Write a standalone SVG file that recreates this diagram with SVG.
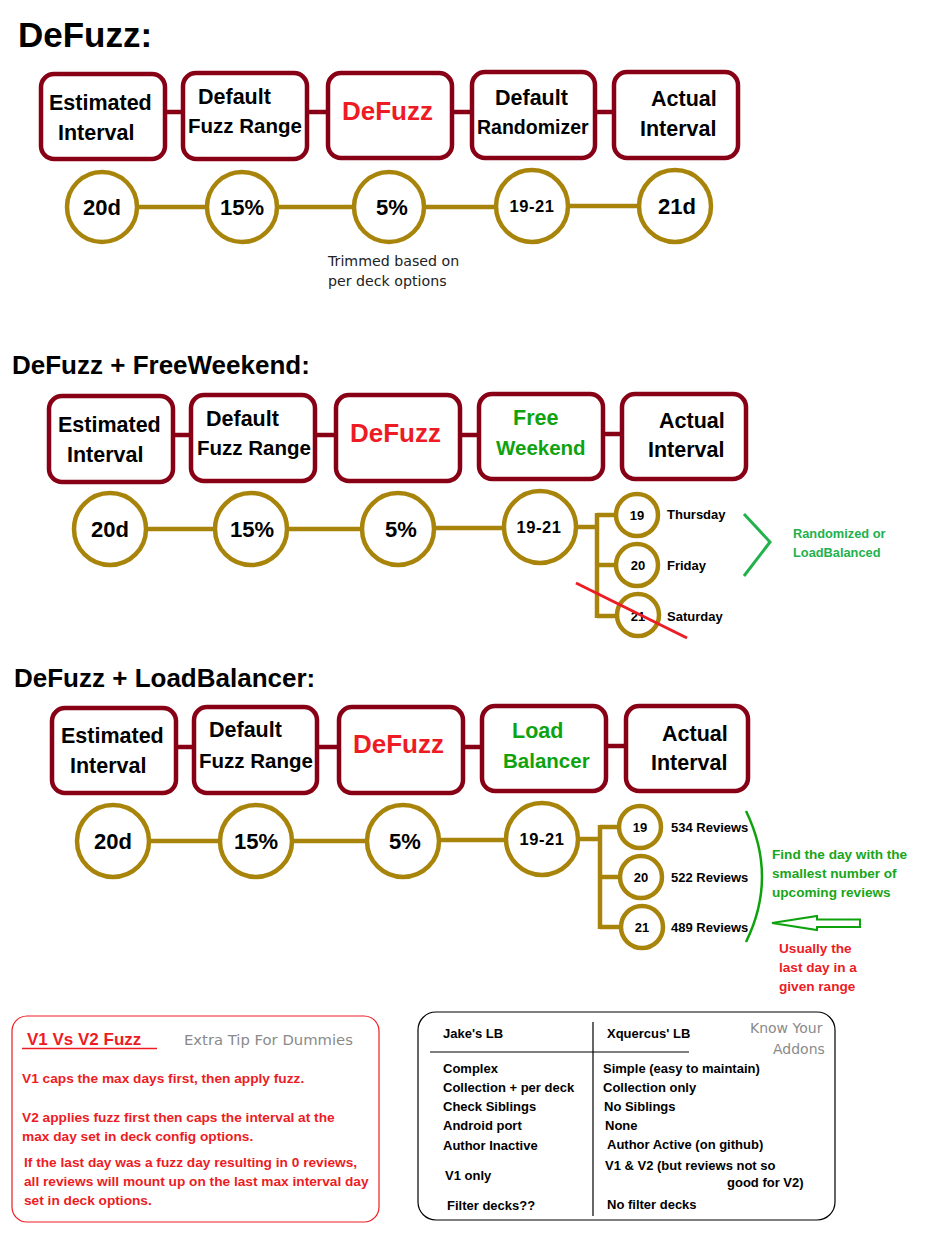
<svg xmlns="http://www.w3.org/2000/svg" width="929" height="1243" viewBox="0 0 929 1243">
<style>
.box{fill:#fff;stroke:#880015;stroke-width:4.5}
.circ{fill:#fff;stroke:#A8840A;stroke-width:4.5}
.lnk{stroke:#880015;stroke-width:4.5;fill:none}
.gl{stroke:#A8840A;stroke-width:4.5;fill:none}
text{font-family:"Liberation Sans",Arial,sans-serif;font-weight:bold;fill:#000}
.title{font-size:26px}
.bt{font-size:21.5px}
.bn{font-size:20.5px}
.red{fill:#ED1C24}
.grn{fill:#0EA30E}
.df{font-size:26px;fill:#ED1C24}
.ct{font-size:22px;text-anchor:middle}
.cs{font-size:16.5px;text-anchor:middle;letter-spacing:0.6px}
.st{font-size:13px;text-anchor:middle}
.lab{font-size:13px}
.hand{font-family:"DejaVu Sans",sans-serif;font-weight:normal}
.note{font-size:13.7px}
.tbl{font-size:13px}
.fnd{font-size:13.6px;fill:#19A519}
</style>

<text x="18" y="47" style="font-size:35px">DeFuzz:</text>
<text x="12" y="374" class="title">DeFuzz + FreeWeekend:</text>
<text x="14" y="687" class="title">DeFuzz + LoadBalancer:</text>

<g id="connectors">
  <line class="lnk" x1="165" y1="112" x2="183" y2="112"/>
  <line class="lnk" x1="307" y1="112" x2="328" y2="112"/>
  <line class="lnk" x1="452" y1="112" x2="472" y2="112"/>
  <line class="lnk" x1="595" y1="112" x2="614" y2="112"/>
  <line class="gl" x1="137" y1="207" x2="207" y2="207"/>
  <line class="gl" x1="277" y1="207" x2="354" y2="207"/>
  <line class="gl" x1="424" y1="207" x2="496" y2="207"/>
  <line class="gl" x1="568" y1="206" x2="639" y2="206"/>
  <line class="lnk" x1="173" y1="435" x2="191" y2="435"/>
  <line class="lnk" x1="315" y1="435" x2="336" y2="435"/>
  <line class="lnk" x1="460" y1="435" x2="479" y2="435"/>
  <line class="lnk" x1="603" y1="434" x2="622" y2="434"/>
  <line class="gl" x1="146" y1="529" x2="215" y2="529"/>
  <line class="gl" x1="287" y1="529" x2="362" y2="529"/>
  <line class="gl" x1="434" y1="528" x2="504" y2="528"/>
  <line class="gl" x1="576" y1="527" x2="597" y2="527"/>
  <line class="gl" x1="597" y1="513" x2="597" y2="618"/>
  <line class="gl" x1="597" y1="515" x2="616" y2="515"/>
  <line class="gl" x1="597" y1="565" x2="616" y2="565"/>
  <line class="gl" x1="597" y1="616" x2="616" y2="616"/>
  <line class="lnk" x1="176" y1="747" x2="194" y2="747"/>
  <line class="lnk" x1="317" y1="747" x2="339" y2="747"/>
  <line class="lnk" x1="463" y1="747" x2="482" y2="747"/>
  <line class="lnk" x1="606" y1="746" x2="626" y2="746"/>
  <line class="gl" x1="149" y1="841" x2="220" y2="841"/>
  <line class="gl" x1="292" y1="841" x2="367" y2="841"/>
  <line class="gl" x1="439" y1="840" x2="506" y2="840"/>
  <line class="gl" x1="578" y1="839" x2="600" y2="839"/>
  <line class="gl" x1="600" y1="825" x2="600" y2="929"/>
  <line class="gl" x1="600" y1="827" x2="619" y2="827"/>
  <line class="gl" x1="600" y1="877" x2="620" y2="877"/>
  <line class="gl" x1="600" y1="927" x2="621" y2="927"/>
</g>

<g id="s1-estimated"><rect class="box" x="41" y="74" width="124" height="85" rx="13"/><text class="bt" x="49" y="110">Estimated</text><text class="bt" x="58" y="140">Interval</text></g>
<g id="s1-fuzzrange"><rect class="box" x="183" y="73" width="124" height="86" rx="13"/><text class="bt" x="198" y="104">Default</text><text class="bn" x="188" y="133">Fuzz Range</text></g>
<g id="s1-defuzz"><rect class="box" x="328" y="73" width="124" height="85" rx="13"/><text class="df" x="342" y="120">DeFuzz</text></g>
<g id="s1-randomizer"><rect class="box" x="472" y="72" width="123" height="86" rx="13"/><text class="bt" x="495" y="105">Default</text><text x="477" y="134" style="font-size:19.5px">Randomizer</text></g>
<g id="s1-actual"><rect class="box" x="614" y="72" width="124" height="86" rx="13"/><text class="bt" x="651" y="106">Actual</text><text class="bt" x="640" y="136">Interval</text></g>

<g id="s1-c1"><circle class="circ" cx="102" cy="207" r="35"/><text class="ct" x="102" y="215">20d</text></g>
<g id="s1-c2"><circle class="circ" cx="242" cy="207" r="35"/><text class="ct" x="242" y="215">15%</text></g>
<g id="s1-c3"><circle class="circ" cx="389" cy="207" r="35"/><text class="ct" x="392" y="215">5%</text></g>
<g id="s1-c4"><circle class="circ" cx="532" cy="206" r="36"/><text class="cs" x="532" y="212">19-21</text></g>
<g id="s1-c5"><circle class="circ" cx="675" cy="206" r="36"/><text class="ct" x="677" y="214">21d</text></g>
<g id="s1-note"><text class="hand" x="328" y="266" style="font-size:14.2px;fill:#222">Trimmed based on</text><text class="hand" x="328" y="286" style="font-size:14.2px;fill:#222">per deck options</text></g>

<g id="s2-estimated"><rect class="box" x="49" y="396" width="124" height="86" rx="13"/><text class="bt" x="58" y="432">Estimated</text><text class="bt" x="67" y="462">Interval</text></g>
<g id="s2-fuzzrange"><rect class="box" x="191" y="395" width="124" height="86" rx="13"/><text class="bt" x="206" y="426">Default</text><text class="bn" x="197" y="455">Fuzz Range</text></g>
<g id="s2-defuzz"><rect class="box" x="336" y="395" width="124" height="86" rx="13"/><text class="df" x="350" y="442">DeFuzz</text></g>
<g id="s2-freeweekend"><rect class="box" x="479" y="394" width="124" height="85" rx="13"/><text class="bt grn" x="513" y="425">Free</text><text class="bn grn" x="496" y="455">Weekend</text></g>
<g id="s2-actual"><rect class="box" x="622" y="394" width="124" height="85" rx="13"/><text class="bt" x="659" y="428">Actual</text><text class="bt" x="648" y="457">Interval</text></g>

<g id="s2-c1"><circle class="circ" cx="110" cy="529" r="36"/><text class="ct" x="110" y="537">20d</text></g>
<g id="s2-c2"><circle class="circ" cx="251" cy="529" r="36"/><text class="ct" x="252" y="537">15%</text></g>
<g id="s2-c3"><circle class="circ" cx="398" cy="529" r="36"/><text class="ct" x="401" y="537">5%</text></g>
<g id="s2-c4"><circle class="circ" cx="540" cy="527" r="36"/><text class="cs" x="539" y="533">19-21</text></g>
<g id="s2-d19"><circle class="circ" cx="637" cy="515" r="21"/><text class="st" x="637" y="520">19</text><text class="lab" x="667" y="519">Thursday</text></g>
<g id="s2-d20"><circle class="circ" cx="637" cy="565" r="21"/><text class="st" x="638" y="570">20</text><text class="lab" x="667" y="570">Friday</text></g>
<g id="s2-d21"><circle class="circ" cx="638" cy="615" r="21"/><text class="st" x="638" y="621">21</text><text class="lab" x="667" y="621">Saturday</text></g>
<g id="s2-strike"><line x1="576" y1="583" x2="687" y2="638" stroke="#ED1C24" stroke-width="3"/></g>
<g id="s2-note"><polyline points="744,514 770,542 744,576" fill="none" stroke="#22B14C" stroke-width="3"/><text x="793" y="538" style="font-size:12.8px;fill:#22B14C">Randomized or</text><text x="793" y="557" style="font-size:12.8px;fill:#22B14C">LoadBalanced</text></g>

<g id="s3-estimated"><rect class="box" x="52" y="708" width="124" height="85" rx="13"/><text class="bt" x="61" y="743">Estimated</text><text class="bt" x="70" y="773">Interval</text></g>
<g id="s3-fuzzrange"><rect class="box" x="194" y="707" width="123" height="86" rx="13"/><text class="bt" x="209" y="737">Default</text><text class="bn" x="199" y="768">Fuzz Range</text></g>
<g id="s3-defuzz"><rect class="box" x="339" y="707" width="124" height="86" rx="13"/><text class="df" x="353" y="753">DeFuzz</text></g>
<g id="s3-loadbalancer"><rect class="box" x="482" y="706" width="124" height="85" rx="13"/><text class="bt grn" x="512" y="738">Load</text><text class="bn grn" x="503" y="768">Balancer</text></g>
<g id="s3-actual"><rect class="box" x="626" y="706" width="122" height="85" rx="13"/><text class="bt" x="662" y="741">Actual</text><text class="bt" x="651" y="770">Interval</text></g>

<g id="s3-c1"><circle class="circ" cx="113" cy="841" r="36"/><text class="ct" x="113" y="849">20d</text></g>
<g id="s3-c2"><circle class="circ" cx="256" cy="841" r="36"/><text class="ct" x="256" y="849">15%</text></g>
<g id="s3-c3"><circle class="circ" cx="403" cy="841" r="36"/><text class="ct" x="405" y="849">5%</text></g>
<g id="s3-c4"><circle class="circ" cx="542" cy="839" r="36"/><text class="cs" x="542" y="845">19-21</text></g>
<g id="s3-d19"><circle class="circ" cx="640" cy="827" r="21"/><text class="st" x="640" y="832">19</text><text class="lab" x="671" y="832">534 Reviews</text></g>
<g id="s3-d20"><circle class="circ" cx="641" cy="877" r="21"/><text class="st" x="641" y="882">20</text><text class="lab" x="671" y="882">522 Reviews</text></g>
<g id="s3-d21"><circle class="circ" cx="642" cy="927" r="21"/><text class="st" x="642" y="932">21</text><text class="lab" x="671" y="932">489 Reviews</text></g>
<g id="s3-note">
  <path d="M746,811 Q778,877 746,942" fill="none" stroke="#0EA30E" stroke-width="2.5"/>
  <text x="772" y="859" class="fnd">Find the day with the</text>
  <text x="772" y="878" class="fnd">smallest number of</text>
  <text x="772" y="897" class="fnd">upcoming reviews</text>
  <polygon points="772,923 817,916 817,919.5 860,919.5 860,927 817,927 817,930" fill="#fff" stroke="#0EA30E" stroke-width="2"/>
  <text x="779" y="953" style="font-size:13.6px" class="red">Usually the</text>
  <text x="779" y="972" style="font-size:13.6px" class="red">last day in a</text>
  <text x="779" y="991" style="font-size:13.6px" class="red">given range</text>
</g>

<g id="tip-box">
  <rect x="12" y="1016" width="367" height="206" rx="15" fill="#fff" stroke="#ED1C24" stroke-width="1.2"/>
  <text x="27" y="1045" class="red" style="font-size:17px">V1 Vs V2 Fuzz</text>
  <line x1="22" y1="1048.5" x2="157" y2="1048.5" stroke="#ED1C24" stroke-width="1.5"/>
  <text x="184" y="1045" class="hand" style="font-size:14.8px;fill:#8a8a8a">Extra Tip For Dummies</text>
  <text x="22" y="1083" class="red note">V1 caps the max days first, then apply fuzz.</text>
  <text x="22" y="1122" class="red note">V2 applies fuzz first then caps the interval at the</text>
  <text x="22" y="1141" class="red note">max day set in deck config options.</text>
  <text x="24" y="1167" class="red note">If the last day was a fuzz day resulting in 0 reviews,</text>
  <text x="24" y="1186" class="red note">all reviews will mount up on the last max interval day</text>
  <text x="24" y="1205" class="red note">set in deck options.</text>
</g>

<g id="addons-box">
  <rect x="418" y="1012" width="417" height="208" rx="18" fill="#fff" stroke="#000" stroke-width="1.2"/>
  <line x1="593" y1="1022" x2="593" y2="1216" stroke="#000" stroke-width="1.2"/>
  <line x1="430" y1="1052" x2="689" y2="1052" stroke="#000" stroke-width="1.2"/>
  <text x="443" y="1038" class="tbl">Jake's LB</text>
  <text x="607" y="1038" class="tbl">Xquercus' LB</text>
  <text x="750" y="1033" class="hand" style="font-size:14px;fill:#8a8a8a">Know Your</text>
  <text x="773" y="1054" class="hand" style="font-size:14px;fill:#8a8a8a">Addons</text>
  <text x="443" y="1073" class="tbl">Complex</text>
  <text x="443" y="1092" class="tbl">Collection + per deck</text>
  <text x="443" y="1111" class="tbl">Check Siblings</text>
  <text x="443" y="1130" class="tbl">Android port</text>
  <text x="443" y="1150" class="tbl">Author Inactive</text>
  <text x="445" y="1180" class="tbl">V1 only</text>
  <text x="447" y="1210" class="tbl">Filter decks??</text>
  <text x="603" y="1073" class="tbl">Simple (easy to maintain)</text>
  <text x="603" y="1092" class="tbl">Collection only</text>
  <text x="604" y="1111" class="tbl">No Siblings</text>
  <text x="605" y="1130" class="tbl">None</text>
  <text x="607" y="1149" class="tbl">Author Active (on github)</text>
  <text x="605" y="1170" class="tbl">V1 &amp; V2 (but reviews not so</text>
  <text x="727" y="1187" class="tbl">good for V2)</text>
  <text x="607" y="1209" class="tbl">No filter decks</text>
</g>
</svg>
